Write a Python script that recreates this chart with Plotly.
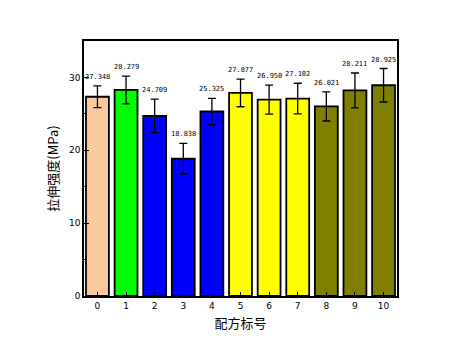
import plotly.graph_objects as go

categories = ["0", "1", "2", "3", "4", "5", "6", "7", "8", "9", "10"]
values = [27.348, 28.279, 24.709, 18.838, 25.325, 27.877, 26.950, 27.102, 26.021, 28.211, 28.925]
errors = [1.5, 1.9, 2.3, 2.1, 1.8, 1.9, 2.0, 2.1, 2.0, 2.4, 2.3]
labels = ["27.348", "28.279", "24.709", "18.838", "25.325", "27.877", "26.950", "27.102", "26.021", "28.211", "28.925"]
colors = ["#FACA9E", "#00FF00", "#0000FF", "#0000FF", "#0000FF", "#FFFF00", "#FFFF00", "#FFFF00",
          "#808000", "#808000", "#808000"]

xs = list(range(len(categories)))
fig = go.Figure()
fig.add_trace(go.Bar(
    x=xs, y=values, width=0.8,
    marker=dict(color=colors, line=dict(color="black", width=1.8)),
    error_y=dict(type="data", array=errors, visible=True, color="black", thickness=1.3, width=4),
))
for x, v, e, t in zip(xs, values, errors, labels):
    fig.add_annotation(x=x, y=v + e, text=t, showarrow=False, yshift=9,
                       font=dict(family="DejaVu Sans Mono", size=7, color="black"))

fig.update_layout(
    width=465, height=357,
    margin=dict(l=76, r=76, t=33, b=69),
    paper_bgcolor="white", plot_bgcolor="white",
    showlegend=False,
    font=dict(family="Noto Sans CJK SC", color="black"),
    xaxis=dict(range=[-0.47, 10.47], tickvals=xs, ticktext=categories,
               ticks="inside", ticklen=4, tickcolor="black",
               showline=True, linecolor="black", linewidth=1.5, mirror=True,
               showgrid=False, zeroline=False,
               tickfont=dict(family="DejaVu Sans", size=9),
               title=dict(text="配方标号", font=dict(size=13), standoff=9)),
    yaxis=dict(range=[0, 35], tickvals=[0, 10, 20, 30],
               ticks="inside", ticklen=5, tickcolor="black",
               minor=dict(tickvals=[5, 15, 25], ticks="inside", ticklen=3, tickcolor="black"),
               showline=True, linecolor="black", linewidth=1.5, mirror=True,
               showgrid=False, zeroline=False,
               tickfont=dict(family="DejaVu Sans", size=9),
               title=dict(text="拉伸强度(MPa)", font=dict(size=13), standoff=7)),
)
fig.write_html("out.html")
